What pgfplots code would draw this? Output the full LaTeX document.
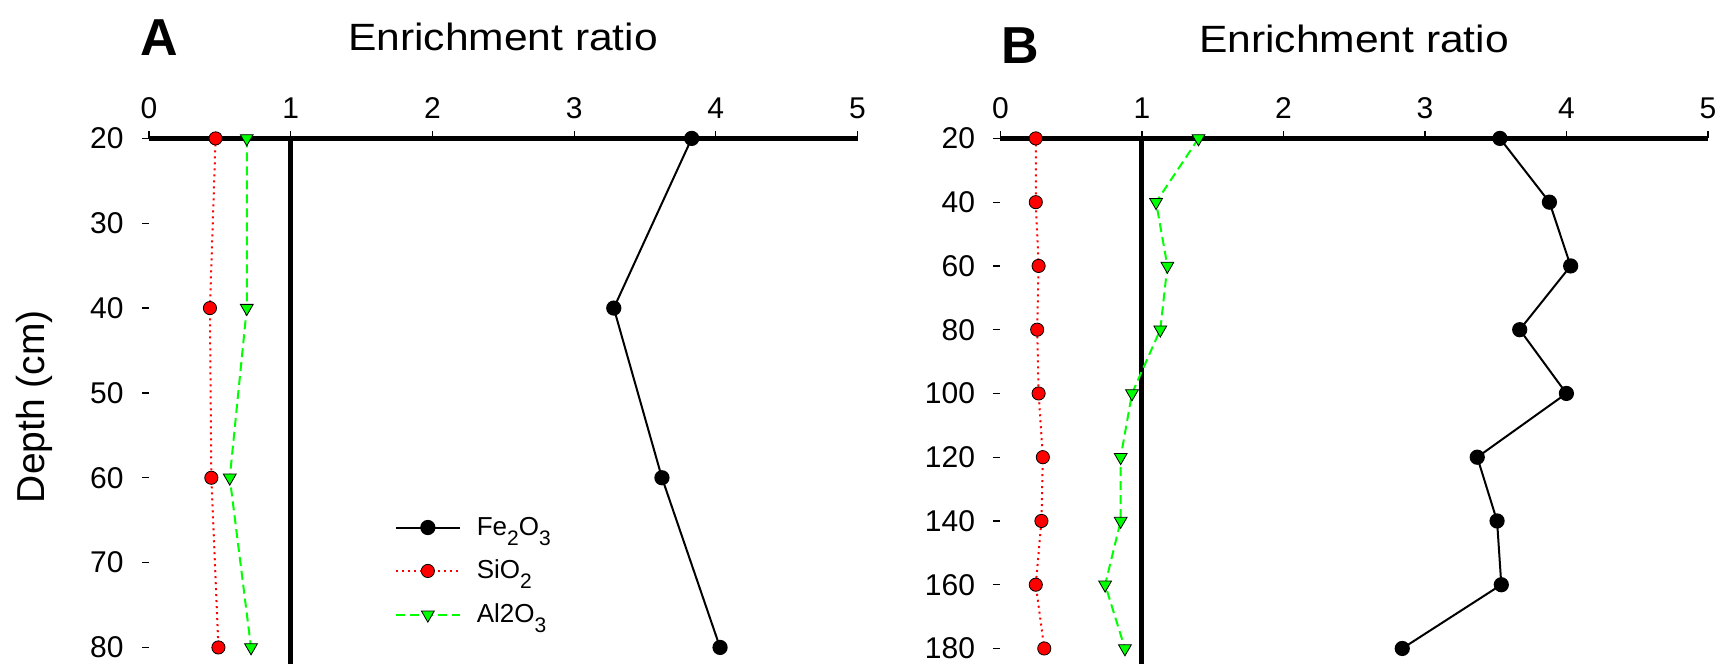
\documentclass[border=0pt]{standalone}
\usepackage{fontspec}
\setmainfont{Liberation Sans}
\usepackage{pgfplots}
\usepackage{pgfplotstable}
\pgfplotsset{compat=1.18}

\newcommand{\sub}[1]{\raisebox{-5bp}[0pt][0pt]{\fontsize{10.5bp}{12bp}\selectfont #1}}

\pgfplotstableread{
depth fe si al
20 3.83 0.47 0.69
40 3.28 0.43 0.69
60 3.62 0.44 0.57
80 4.03 0.49 0.72
}\dataA

\pgfplotstableread{
depth fe si al
20 3.53 0.25 1.40
40 3.88 0.25 1.10
60 4.03 0.27 1.18
80 3.67 0.26 1.13
100 4.00 0.27 0.93
120 3.37 0.30 0.85
140 3.51 0.29 0.85
160 3.54 0.25 0.74
180 2.84 0.31 0.88
}\dataB

\pgfplotsset{
  myax/.style={
    scale only axis, height=263bp, y dir=reverse,
    xmin=0, xmax=5, xtick={0,1,2,3,4,5},
    axis x line*=top, axis y line*=left,
    x axis line style={line width=2.7bp},
    y axis line style={draw=none},
    tick align=outside, major tick length=3.5bp,
    tick style={black, line width=0.6bp},
    /pgf/number format/assume math mode=true,
    tick label style={font=\fontsize{15bp}{18bp}\selectfont},
    xticklabel style={yshift=2.7bp},
    yticklabel style={xshift=-5.7bp},
    clip=false, anchor=north west,
  },
  fe/.style={black, line width=1bp, mark=*, mark size=3.3bp, mark options={solid, fill=black}},
  si/.style={red, line width=1bp, dash pattern=on 1bp off 2bp, mark=*, mark size=3.3bp, mark options={solid, fill=red, draw=black, line width=0.4bp}},
  al/.style={green, line width=1bp, dash pattern=on 4.5bp off 2.5bp, mark=triangle*, mark size=3.7bp, mark options={solid, rotate=180, fill=green, draw=black, line width=0.4bp}},
  refl/.style={black, line width=2.5bp, forget plot},
}

\begin{document}
\begin{tikzpicture}
\useasboundingbox (0bp,0bp) rectangle (861bp,-334.5bp);

\begin{axis}[myax, at={(74.5bp,-69.2bp)}, width=354.25bp, ymin=20, ymax=82, ytick={20,30,40,50,60,70,80},
  legend style={at={(0.338,0.177)}, anchor=west, draw=none, fill=none, font=\fontsize{13bp}{15bp}\selectfont, row sep=7bp},
  legend cell align=left,
  legend image code/.code={\draw[mark repeat=2,mark phase=2] plot coordinates {(0bp,0bp) (16bp,0bp) (32bp,0bp)};}]
\addplot[refl] coordinates {(1,20) (1,82)};
\addplot[fe] table[x=fe, y=depth] {\dataA};
\addlegendentry{\hspace*{6bp}Fe\sub{2}O\sub{3}}
\addplot[si] table[x=si, y=depth] {\dataA};
\addlegendentry{\hspace*{6bp}SiO\sub{2}}
\addplot[al] table[x=al, y=depth] {\dataA};
\addlegendentry{\hspace*{6bp}Al2O\sub{3}}
\end{axis}

\begin{axis}[myax, at={(500.2bp,-69.2bp)}, width=353.75bp, ymin=20, ymax=185, ytick={20,40,...,180}]
\addplot[refl] coordinates {(1,20) (1,185)};
\addplot[fe] table[x=fe, y=depth] {\dataB};
\addplot[si] table[x=si, y=depth] {\dataB};
\addplot[al] table[x=al, y=depth] {\dataB};
\end{axis}

\node[font=\bfseries\fontsize{26bp}{30bp}\selectfont] at (79.5bp,-19bp) {A};
\node[font=\bfseries\fontsize{26bp}{30bp}\selectfont] at (510bp,-23bp) {B};
\node[font=\fontsize{19bp}{23bp}\selectfont] at (251.5bp,-18.4bp) {\scalebox{1.12}[1]{Enrichment ratio}};
\node[font=\fontsize{19bp}{23bp}\selectfont] at (677bp,-19.5bp) {\scalebox{1.12}[1]{Enrichment ratio}};
\node[font=\fontsize{19.5bp}{23bp}\selectfont, rotate=90] at (17.3bp,-203.3bp) {Depth (cm)};
\end{tikzpicture}
\end{document}
